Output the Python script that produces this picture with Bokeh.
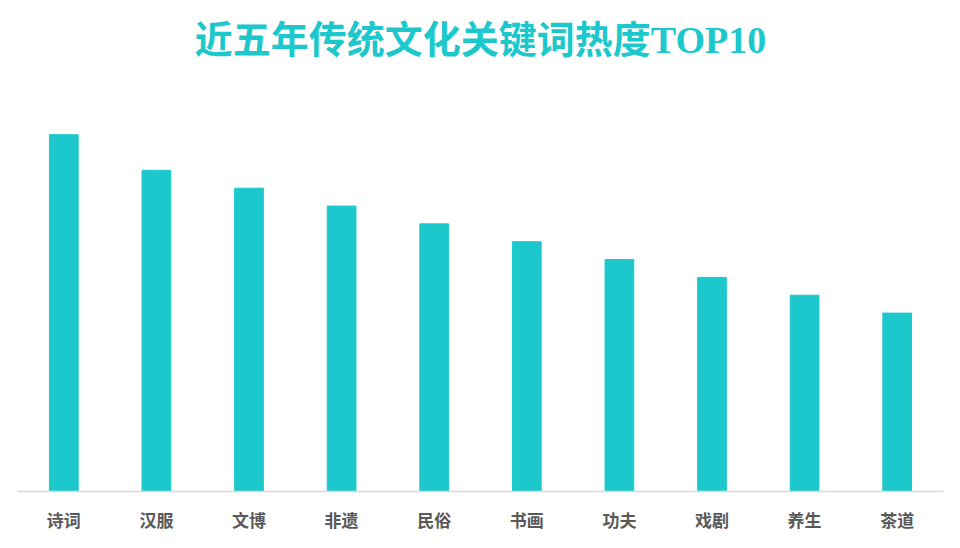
from bokeh.plotting import figure
from bokeh.models import Range1d, Title
from bokeh.embed import file_html
from bokeh.resources import INLINE

categories = ["诗词", "汉服", "文博", "非遗", "民俗", "书画", "功夫", "戏剧", "养生", "茶道"]
values = [100, 90, 85, 80, 75, 70, 65, 60, 55, 50]
title_text = "近五年传统文化关键词热度TOP10"

TEAL = "#1DC8CC"
Y_TOP = 116.3

p = figure(
    x_range=categories,
    y_range=Range1d(0, Y_TOP),
    width=944, height=534,
    output_backend="svg",
    toolbar_location=None,
    min_border_left=17, min_border_right=1, min_border_top=0, min_border_bottom=0,
    outline_line_color=None,
)
p.title = Title(text=title_text, align="center",
                text_font="Liberation Serif, Noto Sans CJK SC",
                text_font_size="38px", text_font_style="bold", text_color=TEAL,
                standoff=32)

p.vbar(x=categories, top=values, width=0.31, color=TEAL)

p.yaxis.visible = False
p.xgrid.visible = False
p.ygrid.visible = False
p.xaxis.axis_line_color = "#D9D9D9"
p.xaxis.axis_line_width = 1.5
p.xaxis.major_tick_line_color = None
p.xaxis.minor_tick_line_color = None
p.xaxis.major_label_text_font = "Noto Sans CJK SC"
p.xaxis.major_label_text_font_style = "bold"
p.xaxis.major_label_text_font_size = "17px"
p.xaxis.major_label_text_color = "#595959"
p.xaxis.major_label_standoff = 9
p.x_range.range_padding = 0

open("out.html", "w").write(file_html(p, INLINE))
